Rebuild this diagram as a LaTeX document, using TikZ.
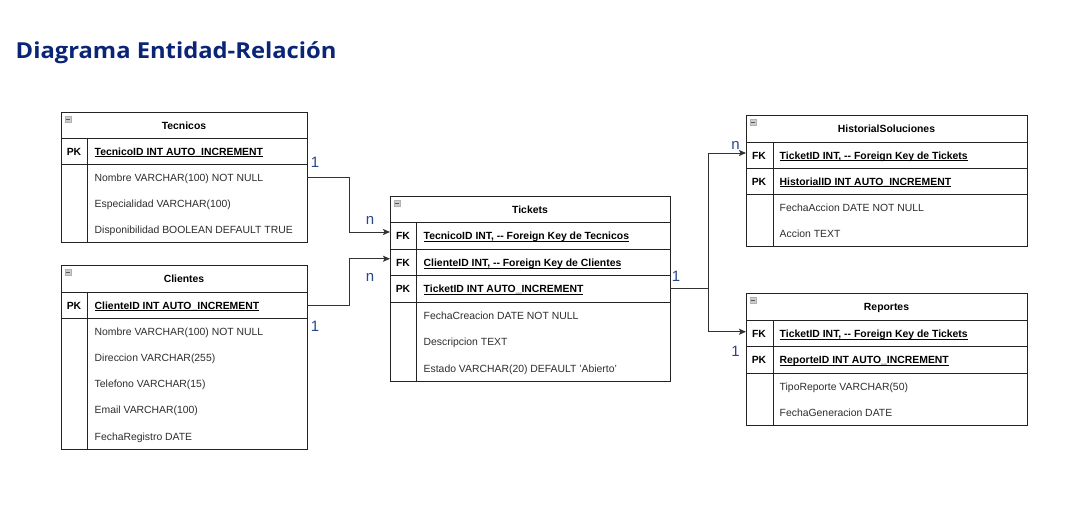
\documentclass[tikz,border=0pt]{standalone}
\usepackage{fontspec}
\setmainfont{Liberation Sans}
\newfontfamily\titlefont[FakeStretch=1.08]{Open Sans}
\usetikzlibrary{arrows.meta,calc}

\definecolor{titleblue}{RGB}{10,36,118}
\definecolor{lblblue}{RGB}{40,70,140}
\definecolor{lineclr}{RGB}{35,35,35}
\definecolor{connclr}{RGB}{50,50,50}
\definecolor{attrclr}{RGB}{45,45,45}

\newcommand\keyul[1]{\setbox0\hbox{#1}\rlap{\rule[-1.8pt]{\wd0}{0.75pt}}\box0}

\newcommand\erhead[6]{%
  \node[hdrbox, minimum width=#4pt, minimum height=#5pt] (#1) at (#2,#3) {};
  \node[hdrtxt] (#1t) at ($(#1.center)+(0,4.2)$) {#6};
  \draw[iconst] ($(#1.north west)+(4,4)$) rectangle ++(6.5,6.5);
  \draw[minusst] ($(#1.north west)+(5.4,7.25)$) -- ++(3.7,0);
}
\newcommand\erkey[7]{%
  \node[keybox, minimum width=#4pt, minimum height=#5pt] (#1) at (#2,#3) {};
  \node[keylbl] (#1k) at ($(#1.west)+(13,4.2)$) {#6};
  \node[keytxt] (#1t) at ($(#1.west)+(33.5,4.2)$) {\keyul{#7}};
}
\newcommand\erattr[6]{%
  \node[attrbox, minimum width=#4pt, minimum height=#5pt] (#1) at (#2,#3) {};
  \node[attrtxt] (#1t) at ($(#1.west)+(33.5,4.2)$) {#6};
}

\begin{document}
\begin{tikzpicture}[x=1pt,y=-1pt,
  hdrbox/.style={draw=lineclr, line width=1pt, anchor=north west, inner sep=0pt, outer sep=0pt},
  keybox/.style={draw=lineclr, line width=1pt, anchor=north west, inner sep=0pt, outer sep=0pt},
  attrbox/.style={draw=none, anchor=north west, inner sep=0pt, outer sep=0pt},
  hdrtxt/.style={font=\fontsize{10.4}{12}\selectfont\bfseries, text=black, anchor=base, inner sep=0pt},
  keylbl/.style={font=\fontsize{10.4}{12}\selectfont\bfseries, text=black, anchor=base, inner sep=0pt},
  keytxt/.style={font=\fontsize{10.4}{12}\selectfont\bfseries, text=black, anchor=base west, inner sep=0pt},
  attrtxt/.style={font=\fontsize{10.4}{12}\selectfont, text=attrclr, anchor=base west, inner sep=0pt},
  tline/.style={draw=lineclr, line width=1pt},
  iconst/.style={draw=gray!60, fill=gray!40, line width=0.5pt},
  minusst/.style={draw=black!65, line width=0.9pt},
  conn/.style={draw=connclr, line width=1pt, -{Stealth[length=7pt,width=6pt,inset=1.5pt]}},
  connplain/.style={draw=connclr, line width=1pt},
  card/.style={font=\fontsize{15}{18}\selectfont, text=lblblue, inner sep=0pt}
]
\useasboundingbox[fill=white] (0,0) rectangle (1074,523);

% Title
\node[anchor=base west, inner sep=0pt, text=titleblue,
  font=\titlefont\bfseries\fontsize{22}{26}\selectfont] (title) at (15.5,58) {Diagrama Entidad-Relación};

% ---------- Tecnicos ----------
\erhead{tec}{61}{112}{246}{26}{Tecnicos}
\erkey{tecpk}{61}{138}{246}{26}{PK}{TecnicoID INT AUTO\_INCREMENT}
\erattr{tecnom}{61}{164}{246}{26}{Nombre VARCHAR(100) NOT NULL}
\erattr{tecesp}{61}{190}{246}{26}{Especialidad VARCHAR(100)}
\erattr{tecdis}{61}{216}{246}{26}{Disponibilidad BOOLEAN DEFAULT TRUE}
\draw[tline] (61,112) rectangle (307,242);
\draw[tline] (87,138) -- (87,242);

% ---------- Clientes ----------
\erhead{cli}{61}{265}{246}{27}{Clientes}
\erkey{clipk}{61}{292}{246}{26}{PK}{ClienteID INT AUTO\_INCREMENT}
\erattr{clinom}{61}{318}{246}{26.2}{Nombre VARCHAR(100) NOT NULL}
\erattr{clidir}{61}{344.2}{246}{26.2}{Direccion VARCHAR(255)}
\erattr{clitel}{61}{370.4}{246}{26.2}{Telefono VARCHAR(15)}
\erattr{cliema}{61}{396.6}{246}{26.2}{Email VARCHAR(100)}
\erattr{clifec}{61}{422.8}{246}{26.2}{FechaRegistro DATE}
\draw[tline] (61,265) rectangle (307,449);
\draw[tline] (87,292) -- (87,449);

% ---------- Tickets ----------
\erhead{tk}{390}{196}{280}{26}{Tickets}
\erkey{tkfk1}{390}{222}{280}{27}{FK}{TecnicoID INT, -{}- Foreign Key de Tecnicos}
\erkey{tkfk2}{390}{249}{280}{26.5}{FK}{ClienteID INT, -{}- Foreign Key de Clientes}
\erkey{tkpk}{390}{275.5}{280}{26.5}{PK}{TicketID INT AUTO\_INCREMENT}
\erattr{tkfec}{390}{302}{280}{26.5}{FechaCreacion DATE NOT NULL}
\erattr{tkdes}{390}{328.5}{280}{26.5}{Descripcion TEXT}
\erattr{tkest}{390}{355}{280}{26.5}{Estado VARCHAR(20) DEFAULT 'Abierto'}
\draw[tline] (390,196) rectangle (670,381.5);
\draw[tline] (416,222) -- (416,381.5);

% ---------- HistorialSoluciones ----------
\erhead{hs}{746}{115}{281}{27}{HistorialSoluciones}
\erkey{hsfk}{746}{142}{281}{26}{FK}{TicketID INT, -{}- Foreign Key de Tickets}
\erkey{hspk}{746}{168}{281}{26}{PK}{HistorialID INT AUTO\_INCREMENT}
\erattr{hsfec}{746}{194}{281}{26}{FechaAccion DATE NOT NULL}
\erattr{hsacc}{746}{220}{281}{26}{Accion TEXT}
\draw[tline] (746,115) rectangle (1027,246);
\draw[tline] (773,142) -- (773,246);

% ---------- Reportes ----------
\erhead{rp}{746}{293}{281}{27}{Reportes}
\erkey{rpfk}{746}{320}{281}{26.5}{FK}{TicketID INT, -{}- Foreign Key de Tickets}
\erkey{rppk}{746}{346.5}{281}{26.5}{PK}{ReporteID INT AUTO\_INCREMENT}
\erattr{rptip}{746}{373}{281}{26}{TipoReporte VARCHAR(50)}
\erattr{rpfec}{746}{399}{281}{26}{FechaGeneracion DATE}
\draw[tline] (746,293) rectangle (1027,425);
\draw[tline] (773,320) -- (773,425);

% ---------- Connectors ----------
\draw[conn] (tecnom.east) -- ++(42,0) |- ([yshift=3.5pt]tkfk1.west);
\draw[conn] (clipk.east) -- ++(42,0) |- ([yshift=3.5pt]tkfk2.west);
\draw[connplain] (tkpk.east) -- ++(38,0) coordinate (split);
\draw[conn] (split) |- ([yshift=2pt]hsfk.west);
\draw[conn] (split) |- ([yshift=1.5pt]rpfk.west);

% ---------- Cardinalities ----------
\node[card] (c1) at (315,162) {1};
\node[card] (c2) at (370,220) {n};
\node[card] (c3) at (370,277) {n};
\node[card] (c4) at (315,326) {1};
\node[card] (c5) at (676,276) {1};
\node[card] (c6) at (735.5,145) {n};
\node[card] (c7) at (735.5,351) {1};
\end{tikzpicture}
\end{document}
